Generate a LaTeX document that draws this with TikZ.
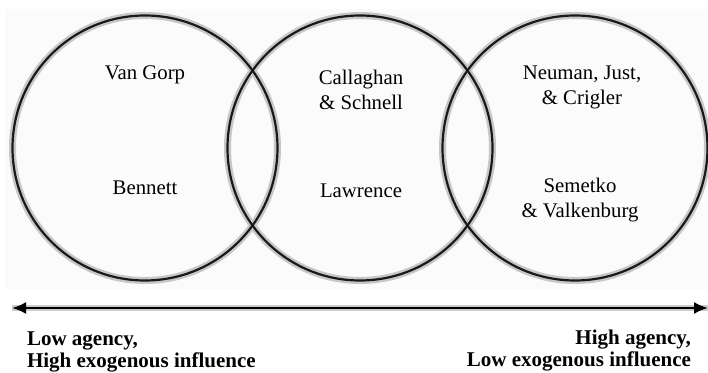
\documentclass[tikz,border=0pt]{standalone}
\usepackage{fontspec}
\setmainfont{Liberation Serif}
\usetikzlibrary{arrows.meta}
\tikzset{
  halo/.style={draw=black!22, line width=3.5pt},
  ring/.style={draw=black!90, line width=1.1pt},
  who/.style={font=\fontsize{10.4}{12.5}\selectfont, align=center},
  poletext/.style={font=\fontsize{10.5}{11}\selectfont\bfseries},
  axis/.style={line width=1.1pt, {Latex[length=7pt,width=6pt]}-{Latex[length=7pt,width=6pt]}},
}
\begin{document}
\begin{tikzpicture}[x=0.5pt,y=-0.5pt]
  \useasboundingbox (0,0) rectangle (708,373);
  \fill[black!1.5] (5,9) rectangle (708,290);
  \coordinate (c1) at (145,148);
  \coordinate (c2) at (360,148);
  \coordinate (c3) at (575,148);
  % soft edge under all rings first
  \foreach \c in {c1,c2,c3}
    \draw[halo] (\c) circle[radius=66.25pt];
  \foreach \c in {c1,c2,c3}
    \draw[ring] (\c) circle[radius=66.25pt];
  \node[who] (vg) at (145,75) {Van Gorp};
  \node[who] (be) at (145,188) {Bennett};
  \node[who] (cs) at (361,89.5) {Callaghan\\\& Schnell};
  \node[who] (la) at (361,191) {Lawrence};
  \node[who] (nj) at (582,87) {Neuman, Just,\\\& Crigler};
  \node[who] (sv) at (580,200) {Semetko\\\& Valkenburg};
  % agency axis
  \coordinate (lo) at (12,308);
  \coordinate (hi) at (708,308);
  \draw[black!20, line width=3pt] (lo) -- (hi);
  \draw[axis] (lo) -- (hi);
  \node[poletext, anchor=north west, align=left] (low) at (20,325)
    {Low agency,\\High exogenous influence};
  \node[poletext, anchor=north east, align=right] (high) at (698,323)
    {High agency,\\Low exogenous influence};
\end{tikzpicture}
\end{document}
